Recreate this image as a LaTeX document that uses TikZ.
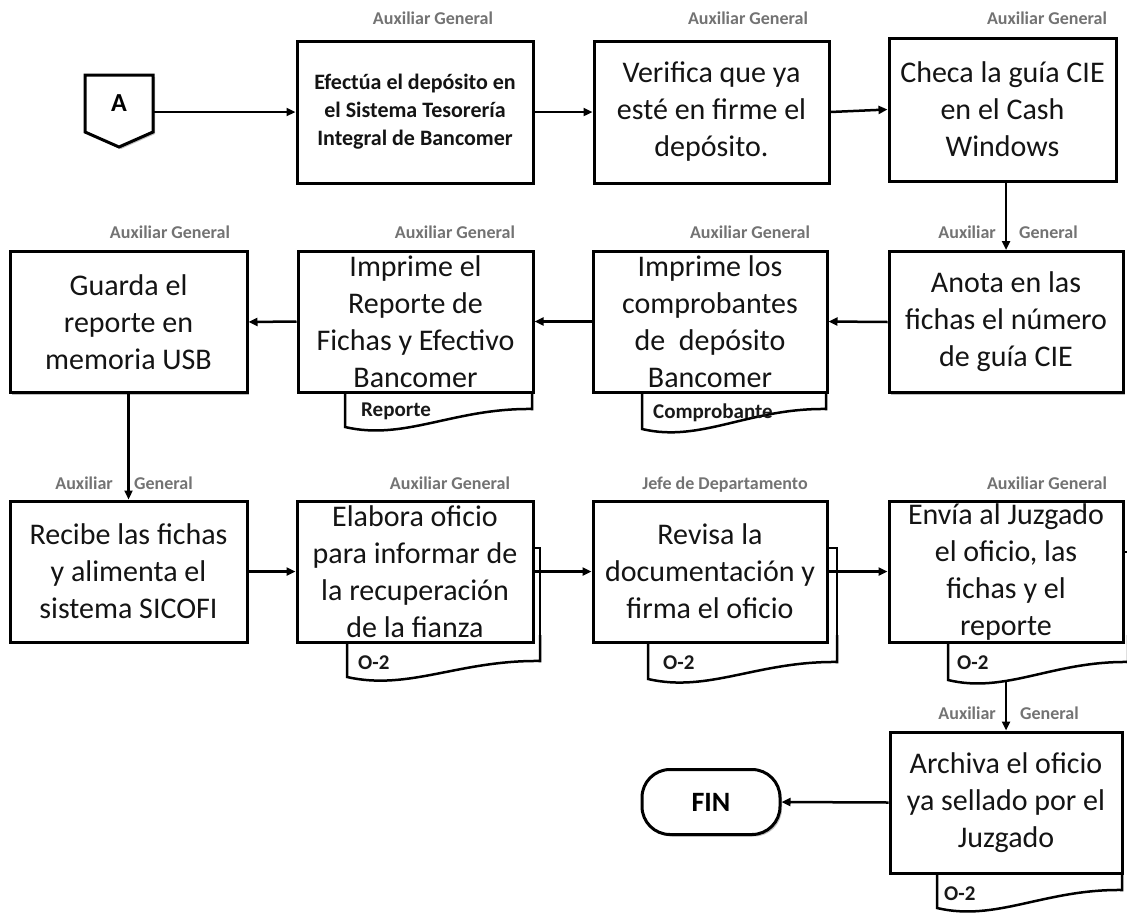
\documentclass[tikz,border=0pt]{standalone}
\usepackage{fontspec}
\setmainfont{Carlito}
\usetikzlibrary{arrows.meta,shadows,calc}

\pgfdeclarelayer{bg}
\pgfdeclarelayer{lines}
\pgfsetlayers{bg,lines,main}

% document sheet under a process box: left, right, top, bottom-left y, bottom-right y
\newcommand{\flowdoc}[5]{%
  \filldraw[docsheet] (#1,#3) -- (#1,#4)
    .. controls ({#1+0.32*(#2-#1)},{#4+14}) and ({#1+0.58*(#2-#1)},{#5-1}) .. (#2,#5)
    -- (#2,#3);}
% top and right edge of a second sheet behind the first: box right, sheet right, top, bottom
\newcommand{\backsheet}[4]{%
  \draw[docsheet, fill=none] (#1,#3) -- (#2,#3) -- (#2,#4);}

\begin{document}
\begin{tikzpicture}[x=1pt,y=-1pt,
  softshadow/.style={drop shadow={shadow xshift=2pt, shadow yshift=-2pt, opacity=0.25, fill=black}},
  box/.style={draw=black, line width=3pt, fill=white, align=center, inner sep=0pt,
    font=\fontsize{30}{37}\selectfont, text=black!92, softshadow},
  docsheet/.style={draw=black, line width=2.5pt, fill=white},
  doclab/.style={anchor=west, inner sep=0pt, font=\fontsize{21}{23}\selectfont\bfseries, text=black!90},
  role/.style={inner sep=0pt, text height=12pt, text depth=4pt,
    font=\fontsize{18}{20}\selectfont\bfseries, text=black!55},
  flow/.style={line width=2.5pt, -{Triangle[length=9pt,width=8pt]}},
  term/.style={draw=black, line width=3pt, fill=white, rounded corners=28pt,
    minimum width=138pt, minimum height=65pt, inner sep=0pt,
    font=\fontsize{28}{30}\selectfont\bfseries, softshadow}
]
\useasboundingbox (0,0) rectangle (1127,913);
\begin{pgfonlayer}{bg}
  \fill[white] (0,0) rectangle (1127,913);
\end{pgfonlayer}
\clip (0,0) rectangle (1127,913);

% off-page connector A
\coordinate (Ac) at (119,103.5);
\filldraw[line width=3pt, fill=white, softshadow]
  ($(Ac)+(-34,-28.5)$) -- ($(Ac)+(34,-28.5)$) -- ($(Ac)+(34,28.5)$)
  -- ($(Ac)+(0,43.5)$) -- ($(Ac)+(-34,28.5)$) -- cycle;
\node[inner sep=0pt, minimum width=68pt, minimum height=57pt,
  font=\fontsize{26}{28}\selectfont\bfseries] (A) at (Ac) {A};

% document sheets
\flowdoc{345}{532}{385}{427}{409}
\flowdoc{642}{826}{385}{429}{409}
\backsheet{533}{540}{548}{662}
\flowdoc{347}{540}{635}{677}{661}
\backsheet{827}{837}{548}{662}
\flowdoc{648}{837}{635}{679}{662}
\backsheet{1123}{1128}{552}{662}
\flowdoc{948}{1128}{635}{680}{662}
\flowdoc{937}{1122}{865}{908}{890}

\node[doclab] (d6) at (361,411) {Reporte};
\node[doclab] (d5) at (653,413) {Comprobante};
\node[doclab] (d9) at (358,663) {O-2};
\node[doclab] (d10) at (663,663) {O-2};
\node[doclab] (d11) at (957,663) {O-2};
\node[doclab] (d12) at (944,894) {O-2};

% process boxes
\node[box, minimum width=236pt, minimum height=142pt, font=\fontsize{22}{28}\selectfont\bfseries] (b1) at (415,112)
  {Efectúa el depósito en\\el Sistema Tesorería\\Integral de Bancomer};
\node[box, minimum width=235pt, minimum height=142pt] (b2) at (711.5,112)
  {Verifica que ya\\esté en firme el\\depósito.};
\node[box, minimum width=227pt, minimum height=143pt] (b3) at (1002.5,109.5)
  {Checa la guía CIE\\en el Cash\\Windows};
\node[box, minimum width=234pt, minimum height=141pt] (b4) at (1006,322)
  {Anota en las\\fichas el número\\de guía CIE};
\node[box, minimum width=234pt, minimum height=141pt] (b5) at (710,321.5)
  {Imprime los\\comprobantes\\de\ \ depósito\\Bancomer};
\node[box, minimum width=235pt, minimum height=141pt] (b6) at (415.5,321.5)
  {Imprime el\\Reporte de\\Fichas y Efectivo\\Bancomer};
\node[box, minimum width=237pt, minimum height=141pt] (b7) at (128.5,322)
  {Guarda el\\reporte en\\memoria USB};
\node[box, minimum width=237pt, minimum height=141pt] (b8) at (128.5,571.5)
  {Recibe las fichas\\y alimenta el\\sistema SICOFI};
\node[box, minimum width=236pt, minimum height=141pt] (b9) at (415,571.5)
  {Elabora oficio\\para informar de\\la recuperación\\de la fianza};
\node[box, minimum width=234pt, minimum height=141pt] (b10) at (710,571.5)
  {Revisa la\\documentación y\\firma el oficio};
\node[box, minimum width=234pt, minimum height=141pt] (b11) at (1006,571.5)
  {Envía al Juzgado\\el oficio, las\\fichas y el\\reporte};
\node[box, minimum width=232pt, minimum height=141pt] (b12) at (1006,802.5)
  {Archiva el oficio\\ya sellado por el\\Juzgado};
\node[term] (fin) at (711,802) {FIN};

% connectors
\begin{pgfonlayer}{lines}
\draw[flow] (A.east |- b1.west) -- (b1.west);
\draw[flow] (b1.east) -- (b2.west);
\draw[flow] (b2.east) -- (b3.west);
\draw[flow] (b3.south -| b4.north) -- (b4.north);
\draw[flow] (b4.west) -- (b5.east);
\draw[flow] (b5.west) -- (b6.east);
\draw[flow] (b6.west) -- (b7.east);
\draw[flow] (b7.south) -- (b8.north);
\draw[flow] (b8.east) -- (b9.west);
\draw[flow] (b9.east) -- (b10.west);
\draw[flow] (b10.east) -- (b11.west);
\draw[flow] (b11.south) -- (b12.north);
\draw[flow] (b12.west) -- (fin.east);
\end{pgfonlayer}

% responsible roles
\node[role] (r1) at (433,20) {Auxiliar General};
\node[role] (r2) at (748,20) {Auxiliar General};
\node[role] (r3) at (1047,20) {Auxiliar General};
\node[role] (r7) at (170,234) {Auxiliar General};
\node[role] (r6) at (455,234) {Auxiliar General};
\node[role] (r5) at (750,234) {Auxiliar General};
\node[role, anchor=east] (r4a) at (996,234) {Auxiliar};
\node[role, anchor=west] (r4b) at (1019,234) {General};
\node[role, anchor=east] (r8a) at (113,485) {Auxiliar};
\node[role, anchor=west] (r8b) at (134,485) {General};
\node[role] (r9) at (450,485) {Auxiliar General};
\node[role] (r10) at (725,485) {Jefe de Departamento};
\node[role] (r11) at (1047,485) {Auxiliar General};
\node[role, anchor=east] (r12a) at (996,715) {Auxiliar};
\node[role, anchor=west] (r12b) at (1020,715) {General};
\end{tikzpicture}
\end{document}
